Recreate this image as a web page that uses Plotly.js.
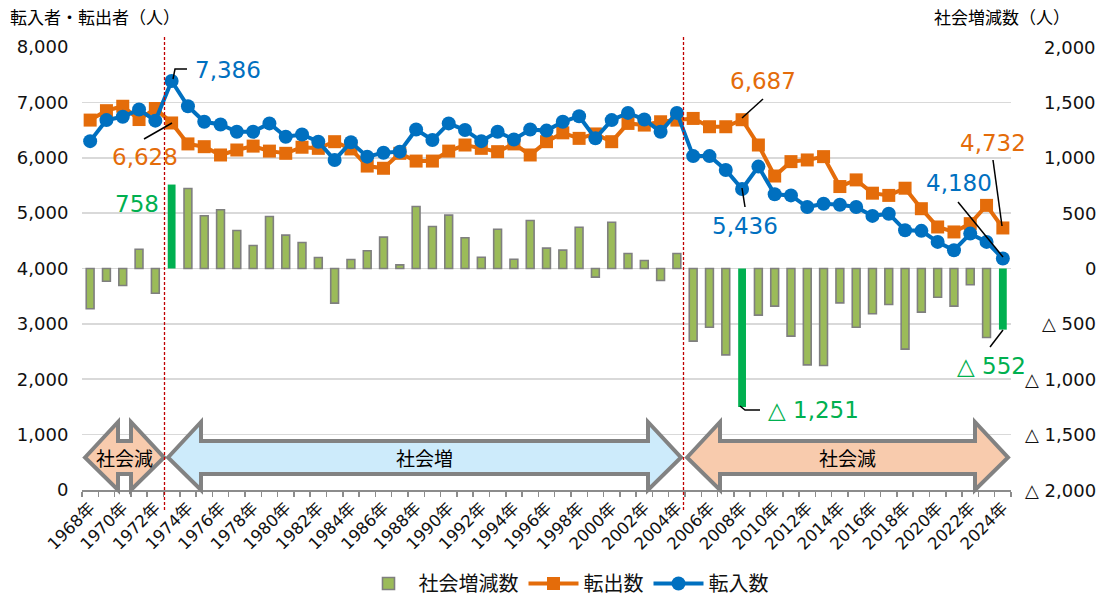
<!DOCTYPE html>
<html>
<head>
<meta charset="utf-8">
<script src="https://cdn.plot.ly/plotly-3.0.1.min.js"></script>
<style>
  html, body { margin: 0; padding: 0; background: #ffffff; }
  #chart { width: 1115px; height: 595px; }
</style>
</head>
<body>
<div id="chart"></div>
<script>
// ---------------- DATA ----------------
const years = [1968,1969,1970,1971,1972,1973,1974,1975,1976,1977,1978,1979,1980,1981,1982,1983,1984,1985,1986,1987,1988,1989,1990,1991,1992,1993,1994,1995,1996,1997,1998,1999,2000,2001,2002,2003,2004,2005,2006,2007,2008,2009,2010,2011,2012,2013,2014,2015,2016,2017,2018,2019,2020,2021,2022,2023,2024];

// 転入数 (persons moving in)
const inflow = [6300,6680,6740,6870,6670,7386,6930,6650,6600,6470,6470,6620,6380,6420,6290,5960,6280,6020,6090,6110,6510,6320,6620,6500,6300,6470,6330,6510,6490,6650,6750,6350,6680,6810,6690,6470,6810,6030,6030,5780,5436,5840,5340,5320,5110,5170,5150,5110,4950,4990,4690,4680,4480,4330,4630,4480,4180];

// 転出数 (persons moving out)
const outflow = [6680,6850,6930,6690,6890,6628,6250,6200,6050,6140,6210,6120,6080,6190,6170,6290,6160,5850,5810,6080,5940,5940,6120,6230,6170,6110,6250,6050,6290,6450,6350,6430,6290,6620,6590,6650,6680,6710,6560,6560,6687,6230,5670,5930,5960,6020,5480,5600,5360,5320,5450,5080,4750,4660,4810,5140,4732];

// 社会増減数 (net social change)
const netChange = [-364,-115,-153,174,-223,758,722,476,530,343,208,470,301,235,99,-313,81,160,283,33,560,379,482,277,102,355,84,434,184,166,373,-78,418,135,72,-108,135,-656,-530,-780,-1251,-421,-340,-611,-870,-876,-310,-530,-409,-325,-728,-394,-259,-340,-147,-623,-552];

const highlightYears = [1973, 2008, 2024];
const leftTicks = [0,1000,2000,3000,4000,5000,6000,7000,8000];
const rightTicks = [-2000,-1500,-1000,-500,0,500,1000,1500,2000];
const periodLabels = ["社会減", "社会増", "社会減"];
const seriesNames = ["社会増減数", "転出数", "転入数"];
const leftAxisTitle = "転入者・転出者（人）";
const rightAxisTitle = "社会増減数（人）";

// ---------------- HELPERS ----------------
const yearLabels = years.map(y => y + "年");
const tickText = years.map(y => (y % 2 === 0 ? y + "年" : ""));
function fmt(v) {
  const s = String(Math.abs(v)).replace(/\B(?=(\d{3})+(?!\d))/g, ",");
  return v < 0 ? "△ " + s : s;
}
const FONT = "DejaVu Sans, Noto Sans CJK JP, sans-serif";
const ORANGE = "#E46C0A", BLUE = "#0070C0", GREEN = "#00B050";
const BARFILL = "#9BBB59", BARLINE = "#7F7F7F", GRAYSTROKE = "#828282";

// page-pixel -> paper conversion (plot area: x 82..1011, y 47..490)
const PL = 82, PW = 929, PB = 490, PH = 443;
const px = x => (x - PL) / PW;
const py = y => (PB - y) / PH;
function pathFrom(points) {
  return "M " + points.map(p => px(p[0]).toFixed(5) + "," + py(p[1]).toFixed(5)).join(" L ") + " Z";
}
function linePath(points) {
  return "M " + points.map(p => px(p[0]).toFixed(5) + "," + py(p[1]).toFixed(5)).join(" L ");
}

const iA = years.indexOf(1973), iB = years.indexOf(2008), iC = years.indexOf(2024);

// ---------------- TRACES ----------------
const barColors = years.map(y => highlightYears.includes(y) ? GREEN : BARFILL);
const barLineW = years.map(y => highlightYears.includes(y) ? 0 : 1.6);

const traces = [
  {
    type: "bar", name: seriesNames[0], x: yearLabels, y: netChange,
    yaxis: "y", xaxis: "x", width: 0.48,
    marker: { color: barColors, line: { color: BARLINE, width: barLineW } }
  },
  {
    type: "scatter", mode: "lines+markers", name: seriesNames[1], x: yearLabels, y: outflow,
    yaxis: "y2", xaxis: "x",
    line: { color: ORANGE, width: 4 },
    marker: { symbol: "square", size: 13, color: ORANGE }
  },
  {
    type: "scatter", mode: "lines+markers", name: seriesNames[2], x: yearLabels, y: inflow,
    yaxis: "y2", xaxis: "x",
    line: { color: BLUE, width: 4 },
    marker: { symbol: "circle", size: 14, color: BLUE }
  }
];

// ---------------- SHAPES ----------------
const shapes = [];
function dblArrow(xl, xr, fill) {
  const h = 33, top = 422, bot = 490, bt = 441, bb = 474, mid = 457.5;
  return {
    type: "path", xref: "paper", yref: "paper", layer: "above",
    path: pathFrom([[xl, mid], [xl + h, top], [xl + h, bt], [xr - h, bt], [xr - h, top], [xr, mid],
                    [xr - h, bot], [xr - h, bb], [xl + h, bb], [xl + h, bot]]),
    fillcolor: fill, line: { color: GRAYSTROKE, width: 4 }
  };
}
shapes.push(dblArrow(85, 164, "#F8CBAD"));
shapes.push(dblArrow(168, 681, "#CDEBFB"));
shapes.push(dblArrow(687, 1008, "#F8CBAD"));
[164.5, 683.5].forEach(x => shapes.push({
  type: "line", xref: "paper", yref: "paper", layer: "above",
  x0: px(x), x1: px(x), y0: py(37), y1: py(512),
  line: { color: "#C00000", width: 1.3, dash: "3px,2px" }
}));
const leaders = [
  [[173, 79], [175, 69], [187, 69]],
  [[144, 139], [172, 123]],
  [[742, 118], [763, 99]],
  [[742, 188], [745, 207]],
  [[740, 406], [745, 410], [760, 410]],
  [[993, 160], [1002, 226]],
  [[958, 202], [1003, 257]],
  [[1003, 330], [990, 347]]
];
leaders.forEach(pts => shapes.push({
  type: "path", xref: "paper", yref: "paper", layer: "above",
  path: linePath(pts), line: { color: "#000000", width: 1.5 }
}));

// ---------------- ANNOTATIONS ----------------
const annotations = [];
function note(text, x, y, color, size, anchor) {
  annotations.push({
    xref: "paper", yref: "paper", x: px(x), y: py(y), text: text, showarrow: false,
    xanchor: anchor || "center", yanchor: "middle",
    font: { family: FONT, size: size, color: color }
  });
}
note(fmt(inflow[iA]), 193, 70, BLUE, 23, "left");
note(fmt(outflow[iA]), 145, 157, ORANGE, 23);
note(fmt(netChange[iA]), 161, 204, GREEN, 23, "right");
note(fmt(outflow[iB]), 763, 81, ORANGE, 23);
note(fmt(inflow[iB]), 745, 226, BLUE, 23);
note(fmt(netChange[iB]), 766, 410, GREEN, 23, "left");
note(fmt(outflow[iC]), 993, 143, ORANGE, 23);
note(fmt(inflow[iC]), 959, 183, BLUE, 23);
note(fmt(netChange[iC]), 991, 366, GREEN, 23);
note(periodLabels[0], 124, 459, "#000000", 19);
note(periodLabels[1], 424, 459, "#000000", 19);
note(periodLabels[2], 847, 459, "#000000", 19);
note(leftAxisTitle, 8, 18, "#000000", 17, "left");
note(rightAxisTitle, 1072, 18, "#000000", 17, "right");
rightTicks.forEach(v => annotations.push({
  xref: "paper", yref: "y", x: px(1098), y: v, text: fmt(v), showarrow: false,
  xanchor: "right", yanchor: "middle",
  font: { family: FONT, size: 18, color: "#111111" }
}));

// ---------------- LAYOUT ----------------
const layout = {
  width: 1115, height: 595,
  margin: { l: 82, r: 104, t: 47, b: 105, pad: 0, autoexpand: false },
  paper_bgcolor: "#ffffff", plot_bgcolor: "#ffffff",
  font: { family: FONT, color: "#111111" },
  showlegend: true,
  legend: {
    orientation: "h", xref: "container", yref: "container",
    x: 566 / 1115, xanchor: "center", y: (595 - 564) / 595, yanchor: "top",
    font: { family: FONT, size: 20, color: "#111111" },
    itemwidth: 50, traceorder: "normal", tracegroupgap: 0
  },
  xaxis: {
    type: "category", range: [-0.5, years.length - 0.5], automargin: false,
    tickmode: "array", tickvals: yearLabels, ticktext: tickText,
    tickangle: -45, tickson: "boundaries",
    ticks: "outside", ticklen: 5, tickwidth: 1.5, tickcolor: "#8c8c8c",
    showline: true, linecolor: "#8c8c8c", linewidth: 2,
    showgrid: false, zeroline: false,
    tickfont: { family: FONT, size: 16.5, color: "#111111" }
  },
  yaxis: {
    side: "right", range: [-2000, 2000], automargin: false,
    tickmode: "array", tickvals: rightTicks, showticklabels: false,
    showgrid: true, gridcolor: "#d9d9d9", gridwidth: 1.6,
    zeroline: false, showline: false, ticks: ""
  },
  yaxis2: {
    side: "left", overlaying: "y", range: [0, 8000], automargin: false,
    tickmode: "array", tickvals: leftTicks, tickformat: ",d",
    showgrid: false, zeroline: false, showline: false,
    ticks: "outside", ticklen: 9, tickcolor: "rgba(0,0,0,0)",
    tickfont: { family: FONT, size: 18, color: "#111111" }
  },
  bargap: 0.5,
  shapes: shapes,
  annotations: annotations,
  hovermode: false
};

Plotly.newPlot("chart", traces, layout, { staticPlot: true, displayModeBar: false });
</script>
</body>
</html>
